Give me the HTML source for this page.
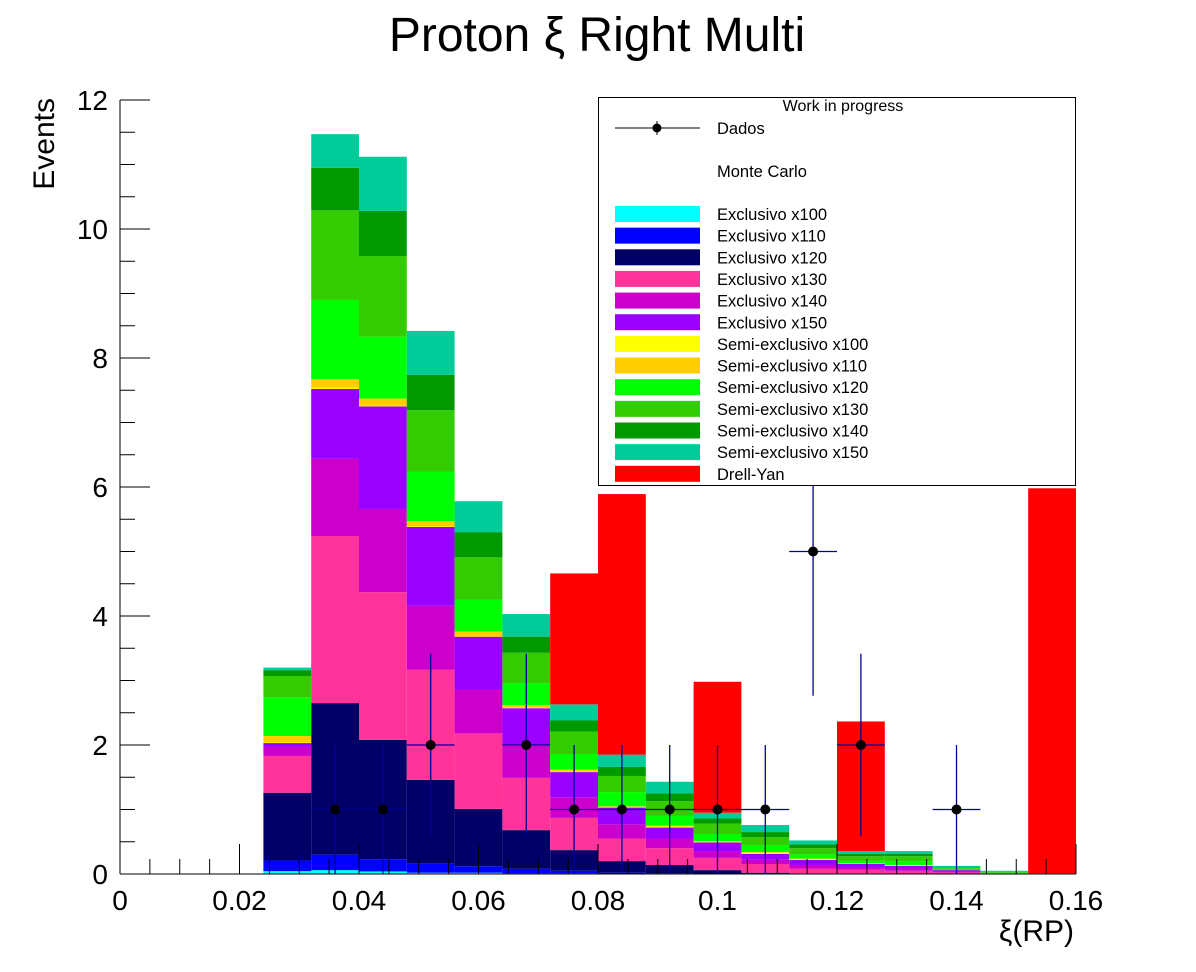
<!DOCTYPE html>
<html><head><meta charset="utf-8"><style>
body{margin:0;background:#fff;}
svg{display:block;font-family:"Liberation Sans",sans-serif;}
</style></head><body>
<svg id="c" width="1196" height="972"></svg>
<script>
// ---- data ----
const binLow=[0.024,0.032,0.040,0.048,0.056,0.064,0.072,0.080,0.088,0.096,0.104,0.112,0.120,0.128,0.136,0.144,0.152];
const binWidth=0.008;
const exc100=[0.045,0.06,0.04,0.02,0.02,0.01,0.01,0.005,0,0,0,0,0,0,0,0,0];
const exc110=[0.165,0.24,0.19,0.14,0.10,0.07,0.04,0.015,0.01,0.005,0,0,0,0,0,0,0];
const exc120=[1.05,2.35,1.85,1.30,0.89,0.60,0.32,0.18,0.13,0.055,0.02,0.01,0.01,0,0,0,0];
const exc130=[0.57,2.59,2.29,1.71,1.17,0.81,0.50,0.35,0.26,0.19,0.135,0.075,0.06,0.05,0.025,0.005,0];
const exc140=[0.14,1.20,1.29,0.99,0.68,0.50,0.32,0.22,0.15,0.10,0.065,0.055,0.03,0.035,0.015,0,0];
const exc150=[0.06,1.08,1.59,1.22,0.82,0.58,0.39,0.26,0.17,0.14,0.09,0.08,0.06,0.04,0.02,0.005,0];
const semi100=[0.01,0.02,0.01,0.01,0.01,0.01,0.01,0.01,0.02,0.01,0.02,0.01,0.005,0.01,0,0,0];
const semi110=[0.10,0.13,0.11,0.08,0.07,0.04,0.03,0.01,0.01,0.01,0.01,0.01,0.005,0.005,0,0,0];
const semi120=[0.60,1.23,0.96,0.77,0.49,0.34,0.24,0.22,0.15,0.11,0.11,0.06,0.04,0.06,0.02,0.01,0];
const semi130=[0.33,1.39,1.25,0.95,0.66,0.47,0.35,0.25,0.23,0.16,0.12,0.10,0.065,0.075,0.015,0.01,0];
const semi140=[0.09,0.66,0.70,0.55,0.39,0.25,0.17,0.14,0.12,0.08,0.08,0.06,0.04,0.035,0.01,0.005,0];
const semi150=[0.04,0.52,0.84,0.68,0.48,0.35,0.25,0.19,0.18,0.09,0.11,0.06,0.04,0.045,0.02,0.015,0.01];
const drellYan=[0,0,0,0,0,0,2.03,4.04,0,2.03,0,0,2.01,0,0,0,5.97];
const dataX=[0.036,0.044,0.052,0.068,0.076,0.084,0.092,0.100,0.108,0.116,0.124,0.140];
const dataY=[1,1,2,2,1,1,1,1,1,5,2,1];
const yTicks=[0,2,4,6,8,10,12];
const xTicks=[0,0.02,0.04,0.06,0.08,0.1,0.12,0.14,0.16];
const xTickLabels=["0","0.02","0.04","0.06","0.08","0.1","0.12","0.14","0.16"];

const series=[
 ["Exclusivo x100",exc100,"#00ffff"],["Exclusivo x110",exc110,"#0000ff"],["Exclusivo x120",exc120,"#000066"],
 ["Exclusivo x130",exc130,"#ff3399"],["Exclusivo x140",exc140,"#cc00cc"],["Exclusivo x150",exc150,"#9900ff"],
 ["Semi-exclusivo x100",semi100,"#ffff00"],["Semi-exclusivo x110",semi110,"#ffcc00"],["Semi-exclusivo x120",semi120,"#00ff00"],
 ["Semi-exclusivo x130",semi130,"#33cc00"],["Semi-exclusivo x140",semi140,"#009900"],["Semi-exclusivo x150",semi150,"#00cc99"],
 ["Drell-Yan",drellYan,"#ff0000"]];

const X0=120,X1=1076,Y0=874,Y1=100;
const xs=v=>X0+(v-0)/(0.16)*(X1-X0);
const ys=v=>Y0-(v/12)*(Y0-Y1);
const svg=document.getElementById('c');
const NS="http://www.w3.org/2000/svg";
function mk(tag,attrs,parent){const e=document.createElementNS(NS,tag);for(const k in attrs)e.setAttribute(k,attrs[k]);(parent||svg).appendChild(e);return e;}

// stacked bars
const cum=binLow.map(()=>0);
series.forEach((s,si)=>{
  const g=mk('g',{});
  
  
  s[1].forEach((v,i)=>{
    if(v<=0)return;
    const b=cum[i],t=cum[i]+v;cum[i]=t;
    const r=mk('rect',{x:xs(binLow[i]),y:ys(t),width:xs(binLow[i]+binWidth)-xs(binLow[i]),height:ys(b)-ys(t),fill:s[2]},g);
    
    
  });
});

// axes
const ax=mk('g',{stroke:'#000','stroke-width':1});


mk('line',{x1:X0,y1:Y0,x2:X1,y2:Y0},ax);
mk('line',{x1:X0,y1:Y0,x2:X0,y2:Y1},ax);
for(let v=0;v<=12.001;v+=0.5){const maj=Math.abs(v/2-Math.round(v/2))<1e-6;mk('line',{x1:X0,y1:ys(v),x2:X0+(maj?30:15),y2:ys(v)},ax);}
for(let k=0;k<=32;k++){const v=k*0.005;const maj=k%4==0;mk('line',{x1:xs(v),y1:Y0,x2:xs(v),y2:Y0-(maj?30:15)},ax);}
yTicks.forEach(v=>{const t=mk('text',{x:108,y:ys(v)+10,'text-anchor':'end','font-size':28});t.textContent=v;
 });
xTicks.forEach((v,i)=>{const t=mk('text',{x:xs(v),y:910,'text-anchor':'middle','font-size':28});t.textContent=xTickLabels[i];
 });

// data points
const dg=mk('g',{});


dataX.forEach((x,i)=>{
  const y=dataY[i],e=Math.sqrt(y);
  mk('line',{x1:xs(x-0.004),y1:ys(y),x2:xs(x+0.004),y2:ys(y),stroke:'#000099','stroke-width':1.3},dg);
  mk('line',{x1:xs(x),y1:ys(y+e),x2:xs(x),y2:ys(Math.max(0,y-e)),stroke:'#000099','stroke-width':1.3},dg);
  const c=mk('circle',{cx:xs(x),cy:ys(y),r:5,fill:'#000'},dg);
  
  
});

// legend
const lg=mk('g',{});


mk('rect',{x:598.5,y:97.5,width:477,height:388,fill:'#fff',stroke:'#000','stroke-width':1},lg);
let tt=mk('text',{x:843,y:111,'text-anchor':'middle','font-size':16},lg);tt.textContent='Work in progress';
mk('line',{x1:615,y1:128,x2:700,y2:128,stroke:'#000','stroke-width':1},lg);
mk('line',{x1:657,y1:121,x2:657,y2:135,stroke:'#000','stroke-width':1},lg);
mk('circle',{cx:657,cy:128,r:4.5,fill:'#000'},lg);
tt=mk('text',{x:717,y:134,'font-size':16.5},lg);tt.textContent='Dados';
tt=mk('text',{x:717,y:177,'font-size':16.5},lg);tt.textContent='Monte Carlo';
series.forEach((s,i)=>{
  const yy=214+i*21.65;
  const e=mk('g',{},lg);
  
  
  mk('rect',{x:615,y:yy-8,width:85,height:16,fill:s[2]},e);
  const t=mk('text',{x:717,y:yy+6,'font-size':16.5},e);t.textContent=s[0];
});

// titles
let t=mk('text',{x:597,y:51,'text-anchor':'middle','font-size':48});t.textContent='Proton ξ Right Multi';

t=mk('text',{x:1074,y:941,'text-anchor':'end','font-size':30});t.textContent='ξ(RP)';

t=mk('text',{x:0,y:0,'text-anchor':'end','font-size':30,transform:'translate(54,98) rotate(-90)'});t.textContent='Events';

</script>
</body></html>
